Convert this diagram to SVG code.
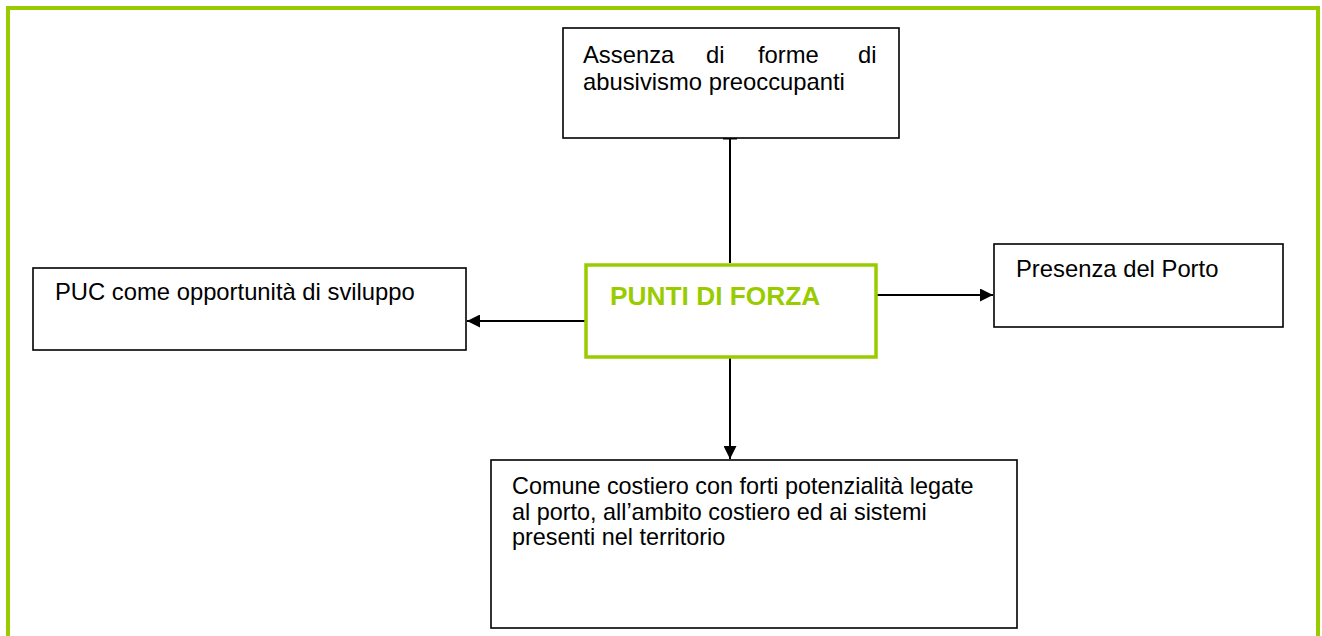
<svg xmlns="http://www.w3.org/2000/svg" width="1322" height="636" viewBox="0 0 1322 636">
<defs>
<style>
.box{fill:#ffffff;stroke:#000000;stroke-width:1.6}
.main{fill:#ffffff;stroke:#99cc00;stroke-width:3.5}
.t{font-family:"Liberation Sans",Arial,sans-serif;font-size:23.8px;fill:#000000}
.ts{font-size:23.4px}
.tb{font-family:"Liberation Sans",Arial,sans-serif;font-size:26.3px;font-weight:bold;fill:#99cc00}
.c{stroke:#000000;stroke-width:2;fill:none}
</style>
<marker id="ah" viewBox="0 0 10 10" refX="10" refY="5" markerWidth="15" markerHeight="13" markerUnits="userSpaceOnUse" orient="auto">
<path d="M0,0 L10,5 L0,10 z" fill="#000000"/>
</marker>
</defs>
<rect width="1322" height="636" fill="#ffffff"/>
<path d="M8,636 V8 H1318 V636" fill="none" stroke="#99cc00" stroke-width="4"/>
<g id="connectors">
<line class="c" x1="730" y1="139" x2="730" y2="263"/>
<line class="c" x1="723" y1="138.5" x2="737" y2="138.5"/>
<line class="c" x1="586" y1="321" x2="467" y2="321" marker-end="url(#ah)"/>
<line class="c" x1="876" y1="295" x2="993" y2="295" marker-end="url(#ah)"/>
<line class="c" x1="730" y1="341" x2="730" y2="459" marker-end="url(#ah)"/>
</g>
<g id="node-top">
<rect class="box" x="563" y="28" width="336" height="110"/>
<text class="t" y="63"><tspan x="583">Assenza</tspan><tspan x="706">di</tspan><tspan x="758">forme</tspan><tspan x="858">di</tspan></text>
<text class="t" x="583" y="90">abusivismo preoccupanti</text>
</g>
<g id="node-center">
<rect class="main" x="586" y="265" width="290" height="92"/>
<text class="tb" x="610" y="305">PUNTI DI FORZA</text>
</g>
<g id="node-left">
<rect class="box" x="33" y="268" width="433" height="82"/>
<text class="t" x="55" y="300">PUC come opportunità di sviluppo</text>
</g>
<g id="node-right">
<rect class="box" x="994" y="244" width="289" height="83"/>
<text class="t" x="1016" y="277">Presenza del Porto</text>
</g>
<g id="node-bottom">
<rect class="box" x="491" y="460" width="526" height="168"/>
<text class="t ts" x="512" y="494">Comune costiero con forti potenzialità legate</text>
<text class="t ts" x="512" y="519.5">al porto, all’ambito costiero ed ai sistemi</text>
<text class="t ts" x="512" y="544.5">presenti nel territorio</text>
</g>
</svg>
